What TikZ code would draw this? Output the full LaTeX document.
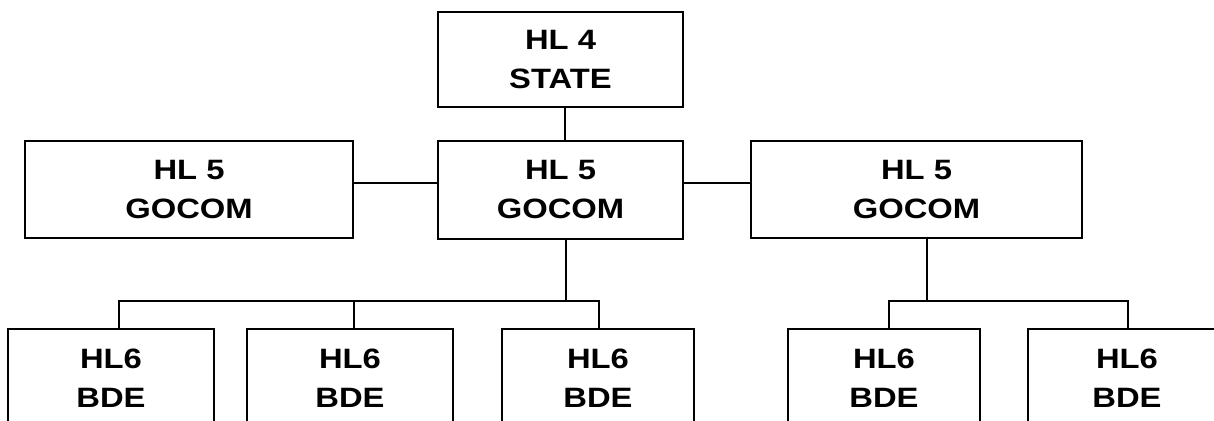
\documentclass[tikz,border=0pt]{standalone}
\usepackage{fontspec}
\setmainfont{Liberation Sans}[FakeStretch=1.17]
\usetikzlibrary{positioning}

\begin{document}
\begin{tikzpicture}[x=1pt,y=-1pt,line width=1.5pt,
    unitbox/.style={draw,inner sep=0pt,align=center,
        font=\fontsize{28}{39}\selectfont\bfseries}]
                \clip (0,0) rectangle (1214,420);
                % top of the chart
                \node[unitbox,minimum width=245,minimum height=95] (state) at (560.5,59.5) {HL 4\\STATE};
                \node[unitbox,minimum width=245,minimum height=98] (gocomM) at (560.5,190) {HL 5\\GOCOM};
                \node[unitbox,minimum width=328,minimum height=97] (gocomL) at (189,189.5) {HL 5\\GOCOM};
                \node[unitbox,minimum width=331,minimum height=97] (gocomR) at (916.5,189.5) {HL 5\\GOCOM};
                % brigades
                \node[unitbox,minimum width=206,minimum height=98] (bdeA) at (111,378) {HL6\\BDE};
                \node[unitbox,minimum width=206,minimum height=98] (bdeB) at (350,378) {HL6\\BDE};
                \node[unitbox,minimum width=192,minimum height=98] (bdeC) at (598,378) {HL6\\BDE};
                \node[unitbox,minimum width=192,minimum height=98] (bdeD) at (884,378) {HL6\\BDE};
                \node[unitbox,minimum width=198,minimum height=98] (bdeE) at (1127,378) {HL6\\BDE};
                % links
                \coordinate (busM) at (566,301);
                \coordinate (busR) at (927,301);
                \coordinate (topS) at ([xshift=4.5pt]state.south);
                \coordinate (dropA) at ([xshift=8pt]bdeA.north);
                \coordinate (dropB) at ([xshift=4pt]bdeB.north);
                \coordinate (dropC) at ([xshift=1pt]bdeC.north);
                \coordinate (dropD) at ([xshift=5pt]bdeD.north);
                \coordinate (dropE) at ([xshift=1pt]bdeE.north);
                \coordinate (sideL) at ([yshift=6.5pt]gocomL.east);
                \draw (topS) -- (topS |- gocomM.north);
                \draw (sideL) -- (sideL -| gocomM.west);
                \draw (sideL -| gocomM.east) -- (sideL -| gocomR.west);
                \draw (busM |- gocomM.south) -- (busM);
                \draw (dropA) |- (busM) -| (dropC);
                \draw (dropB) -- (dropB |- busM);
                \draw (busR |- gocomR.south) -- (busR);
                \draw (dropD) |- (busR) -| (dropE);
            \end{tikzpicture}
\end{document}
